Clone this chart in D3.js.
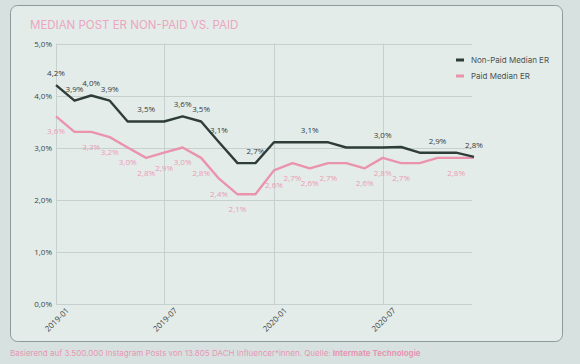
<!DOCTYPE html>
<html>
<head>
<meta charset="utf-8">
<script src="https://cdn.jsdelivr.net/npm/d3@7"></script>
<style>
  html, body { margin: 0; padding: 0; background: #d7e2e0; }
  svg { display: block; }
</style>
</head>
<body>
<div class="container"></div>
<script>
const months = ["2019-01","2019-02","2019-03","2019-04","2019-05","2019-06","2019-07","2019-08","2019-09","2019-10","2019-11","2019-12",
                "2020-01","2020-02","2020-03","2020-04","2020-05","2020-06","2020-07","2020-08","2020-09","2020-10","2020-11","2020-12"];
const nonPaid = [4.2,3.9,4.0,3.9,3.5,3.5,3.5,3.6,3.5,3.1,2.7,2.7,3.1,3.1,3.1,3.1,3.0,3.0,3.0,3.01,2.9,2.9,2.9,2.82];
const paid = [3.6,3.3,3.3,3.2,3.0,2.8,2.9,3.0,2.8,2.4,2.1,2.1,2.56,2.7,2.6,2.7,2.7,2.6,2.8,2.7,2.7,2.8,2.8,2.8];
// which months carry a value label
const nonPaidLabels = [0,1,2,3,5,7,8,9,11,14,18,21,23];
const paidLabels = [0,2,3,4,5,6,7,8,9,10,12,13,14,15,17,18,19,22];
const yTicks = [0,1,2,3,4,5];
const xTicks = ["2019-01","2019-07","2020-01","2020-07"];
const seriesNames = ["Non-Paid Median ER","Paid Median ER"];
const TITLE = "MEDIAN POST ER NON-PAID VS. PAID";

const WIDTH = 580;
const HEIGHT = 364;
const DARK = "#2f3d39";
const PINK = "#ea93ad";
const GRID = "#c6d0ce";

var parse = d3.timeParse("%Y-%m");
var de = d3.formatLocale({decimal: ",", thousands: ".", grouping: [3], currency: ["", "€"]});
var pct = de.format(".1f");

var svg = d3.select('.container').append('svg')
    .attr('width', WIDTH)
    .attr('height', HEIGHT);

// card
svg.append('rect')
    .attr('x', 10.5).attr('y', 5.5)
    .attr('width', 552).attr('height', 336)
    .attr('rx', 7)
    .attr('fill', '#e4ecea')
    .attr('stroke', '#8d9a97')
    .attr('stroke-width', 1);

svg.append('text')
    .attr('x', 30).attr('y', 28.5)
    .attr('font-family', 'Inter, Lato, sans-serif')
    .attr('font-size', 11.5)
    .attr('fill', '#eba6c0')
    .text(TITLE);

var xScale = d3.scaleTime()
    .domain([parse(months[0]), parse(months[months.length - 1])])
    .range([56, 474]);

var yScale = d3.scaleLinear()
    .domain([0, 5])
    .range([303.5, 43.5]);

// gridlines
var grid = svg.append('g');
grid.selectAll('.hg').data(yTicks).enter().append('line')
    .attr('x1', 56).attr('x2', 472)
    .attr('y1', function(d){ return Math.round(yScale(d)) + 0.5; })
    .attr('y2', function(d){ return Math.round(yScale(d)) + 0.5; })
    .attr('stroke', GRID);
grid.selectAll('.vg').data(xTicks).enter().append('line')
    .attr('x1', function(d){ return Math.round(xScale(parse(d))) + 0.5; })
    .attr('x2', function(d){ return Math.round(xScale(parse(d))) + 0.5; })
    .attr('y1', 43.5).attr('y2', 304)
    .attr('stroke', GRID);

// y axis labels
var yAxis = d3.axisLeft(yScale)
    .tickValues(yTicks)
    .tickSize(0)
    .tickPadding(4)
    .tickFormat(function(d){ return pct(d) + "%"; });
svg.append('g')
    .attr('transform', 'translate(56,0)')
    .call(yAxis)
    .call(function(g){ g.select('.domain').remove(); })
    .selectAll('text')
    .attr('font-family', '"Open Sans", sans-serif')
    .attr('font-size', 8)
    .attr('fill', '#3d4644');

// x axis labels
var xAxis = d3.axisBottom(xScale)
    .tickValues(xTicks.map(parse))
    .tickSize(0)
    .tickFormat(d3.timeFormat("%Y-%m"));
svg.append('g')
    .attr('transform', 'translate(0,304)')
    .call(xAxis)
    .call(function(g){ g.select('.domain').remove(); })
    .selectAll('text')
    .attr('font-family', '"Open Sans", sans-serif')
    .attr('font-size', 8)
    .attr('fill', '#3d4644')
    .attr('text-anchor', 'end')
    .attr('dy', '0.35em')
    .attr('transform', 'translate(9,3) rotate(-45)');

var line = d3.line()
    .x(function(d, i){ return xScale(parse(months[i])); })
    .y(function(d){ return yScale(d); });

svg.append('path')
    .attr('d', line(paid))
    .attr('fill', 'none')
    .attr('stroke', PINK)
    .attr('stroke-width', 2.4)
    .attr('stroke-linejoin', 'round');

svg.append('path')
    .attr('d', line(nonPaid))
    .attr('fill', 'none')
    .attr('stroke', DARK)
    .attr('stroke-width', 2.4)
    .attr('stroke-linejoin', 'round');

var addLabels = function(values, idx, dy, color){
    svg.append('g').selectAll('text').data(idx).enter().append('text')
        .attr('x', function(i){ return xScale(parse(months[i])); })
        .attr('y', function(i){ return yScale(values[i]) + dy; })
        .attr('dy', '0.35em')
        .attr('text-anchor', 'middle')
        .attr('font-family', '"Open Sans", sans-serif')
        .attr('font-size', 8)
        .attr('fill', color)
        .text(function(i){ return pct(values[i]) + "%"; });
};
addLabels(nonPaid, nonPaidLabels, -12, '#333b39');
addLabels(paid, paidLabels, 15, '#eb9bb6');

// legend
var legend = svg.append('g').selectAll('g').data(seriesNames).enter().append('g')
    .attr('transform', function(d, i){ return 'translate(456,' + (60 + i * 16) + ')'; });
legend.append('line')
    .attr('x1', 0).attr('x2', 8)
    .attr('stroke', function(d, i){ return i === 0 ? DARK : PINK; })
    .attr('stroke-width', 3);
legend.append('text')
    .attr('x', 15).attr('dy', '0.35em')
    .attr('font-family', 'Inter, Lato, sans-serif')
    .attr('font-size', 8)
    .attr('fill', '#4a5351')
    .text(function(d){ return d; });

// footer
var foot = svg.append('text')
    .attr('x', 10).attr('y', 355.5)
    .attr('font-family', 'Inter, Lato, sans-serif')
    .attr('font-size', 8)
    .attr('fill', '#e895b3');
foot.append('tspan').text("Basierend auf 3.500.000 Instagram Posts von 13.805 DACH Influencer*innen. Quelle: ");
foot.append('tspan').attr('font-weight', 'bold').text("Intermate Technologie");
</script>
</body>
</html>
